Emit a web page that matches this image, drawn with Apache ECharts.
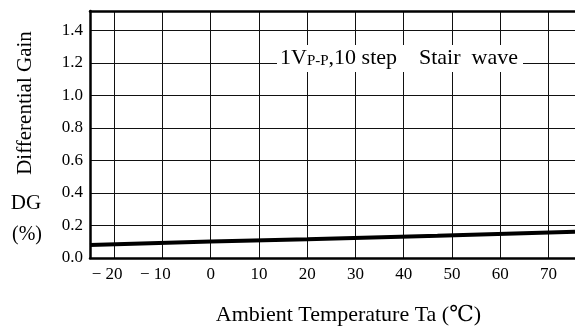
<!DOCTYPE html>
<html>
<head>
<meta charset="utf-8">
<script src="https://cdn.jsdelivr.net/npm/echarts@6/dist/echarts.min.js"></script>
<style>
  html, body { margin: 0; padding: 0; background: #fff; }
  #chart { width: 575px; height: 327px; }
</style>
</head>
<body>
<div id="chart"></div>
<script>
// DG vs ambient temperature
const temps = [-25, 0, 20, 47, 75.5];
const dgValues = [0.08, 0.102, 0.115, 0.137, 0.162];
const xTicks = [-20, -10, 0, 10, 20, 30, 40, 50, 60, 70];

const serif = '"Liberation Serif", "DejaVu Serif", serif';

const chart = echarts.init(document.getElementById('chart'), null, { renderer: 'canvas' });

const option = {
  backgroundColor: '#fff',
  animation: false,
  grid: { left: 90, right: 0, top: 11, bottom: 69, containLabel: false, outerBoundsMode: 'none' },
  xAxis: [
    {
      type: 'value',
      min: -25,
      max: 75.5,
      axisLine: { show: true, onZero: false, lineStyle: { color: '#000', width: 2.5 } },
      axisTick: { show: false, customValues: xTicks },
      axisLabel: {
        customValues: xTicks,
        color: '#000',
        fontFamily: serif,
        fontSize: 17,
        margin: 8,
        // minus sign hangs to the left of the tick, as in the print
        formatter: v => (v < 0 ? '{neg|\u2212 ' + Math.abs(v) + '}' : String(v)),
        rich: {
          neg: { color: '#000', fontFamily: serif, fontSize: 17, padding: [0, 14, 0, 0] }
        }
      },
      splitLine: { show: true, lineStyle: { color: '#111', width: 1 } },
      name: 'Ambient Temperature Ta (\u2103)',
      nameLocation: 'middle',
      nameGap: 46,
      nameTextStyle: { color: '#000', fontFamily: serif, fontSize: 22, padding: [0, 0, 0, 32] }
    },
    {
      // top border
      type: 'value',
      position: 'top',
      min: -25,
      max: 75.5,
      axisLine: { show: true, onZero: false, lineStyle: { color: '#000', width: 2.5 } },
      axisTick: { show: false },
      axisLabel: { show: false },
      splitLine: { show: false }
    }
  ],
  yAxis: {
    type: 'value',
    min: 0,
    max: 1.52,
    interval: 0.2,
    axisLine: { show: true, onZero: false, lineStyle: { color: '#000', width: 2.5 } },
    axisTick: { show: false },
    axisLabel: {
      showMaxLabel: false,
      color: '#000',
      fontFamily: serif,
      fontSize: 17,
      margin: 7,
      formatter: v => v.toFixed(1)
    },
    splitLine: { show: true, lineStyle: { color: '#111', width: 1 } }
  },
  graphic: [
    {
      type: 'text',
      x: 25, y: 103,
      rotation: Math.PI / 2,
      style: {
        text: 'Differential Gain',
        fill: '#000',
        font: '21px ' + serif,
        align: 'center',
        verticalAlign: 'middle'
      }
    },
    {
      type: 'text',
      x: 26, y: 203,
      style: { text: 'DG', fill: '#000', font: '21px ' + serif, align: 'center', verticalAlign: 'middle' }
    },
    {
      type: 'text',
      x: 27, y: 235,
      style: { text: '(%)', fill: '#000', font: '20px ' + serif, align: 'center', verticalAlign: 'middle' }
    },
    {
      type: 'rect',
      shape: { x: 277, y: 45, width: 246, height: 27 },
      style: { fill: '#fff' },
      z: 10
    },
    {
      type: 'text',
      x: 280, y: 58,
      z: 11,
      style: {
        text: '{n|1V}{s|P-P}{n|,10 step    Stair  wave}',
        verticalAlign: 'middle',
        rich: {
          n: { fill: '#000', font: '22px ' + serif },
          s: { fill: '#000', font: '15px ' + serif, padding: [6, 0, 0, 0] }
        }
      }
    }
  ],
  series: [
    {
      type: 'line',
      data: temps.map((t, i) => [t, dgValues[i]]),
      showSymbol: false,
      lineStyle: { color: '#000', width: 4 },
      z: 5
    }
  ]
};

chart.setOption(option);
</script>
</body>
</html>
